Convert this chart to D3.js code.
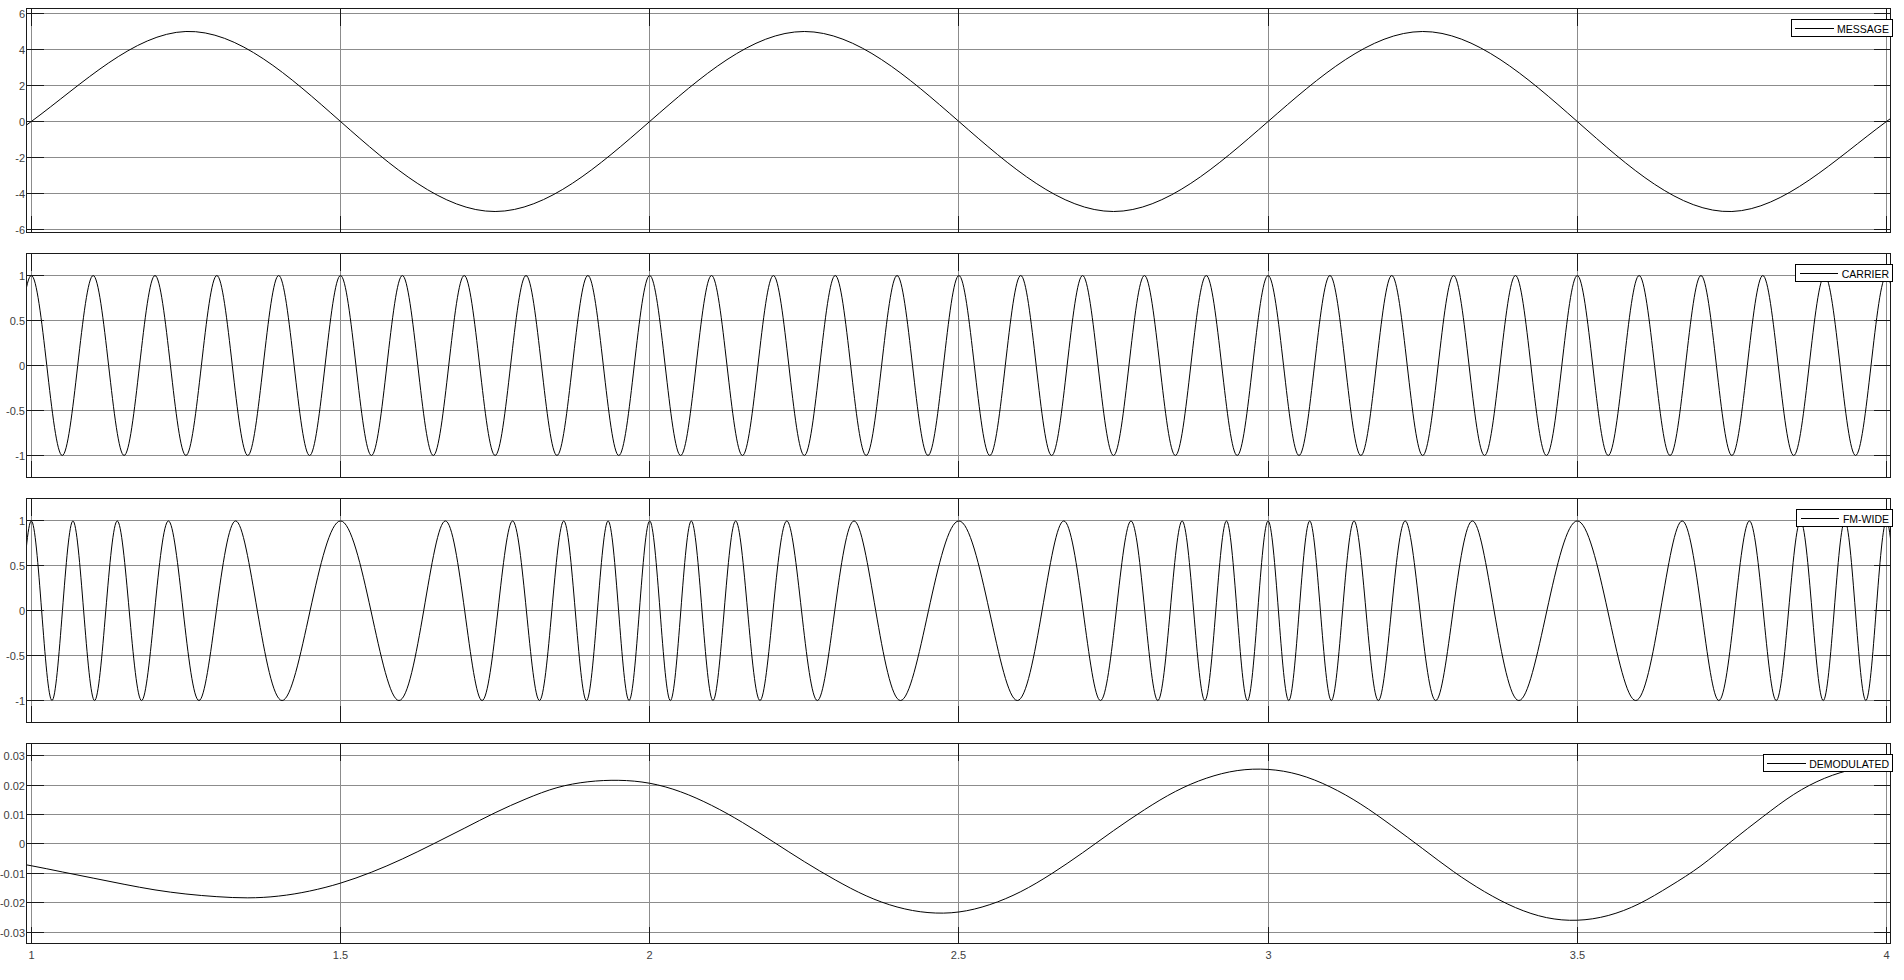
<!DOCTYPE html>
<html><head><meta charset="utf-8">
<script src="https://cdn.jsdelivr.net/npm/d3@7"></script>
<style>
html,body{margin:0;padding:0;background:#fff;}
svg{display:block;}
text{font-family:"Liberation Sans",Arial,Helvetica,sans-serif;}
</style></head><body>
<svg id="chart" width="1904" height="980"></svg>
<script>
// ---------- data ----------
const xTicks = [1, 1.5, 2, 2.5, 3, 3.5, 4];
const xTickLabels = ["1", "1.5", "2", "2.5", "3", "3.5", "4"];

const messageTicks = [-6, -4, -2, 0, 2, 4, 6];
const messageTickLabels = ["-6", "-4", "-2", "0", "2", "4", "6"];
const unitTicks = [-1, -0.5, 0, 0.5, 1];
const unitTickLabels = ["-1", "-0.5", "0", "0.5", "1"];
const demodTicks = [-0.03, -0.02, -0.01, 0, 0.01, 0.02, 0.03];
const demodTickLabels = ["-0.03", "-0.02", "-0.01", "0", "0.01", "0.02", "0.03"];

const messageT = [0.75, 1, 1.25, 1.5, 1.75, 2, 2.25, 2.5, 2.75, 3, 3.25, 3.5, 3.75, 4, 4.25];
const messageV = [-5, 0, 5, 0, -5, 0, 5, 0, -5, 0, 5, 0, -5, 0, 5];

const carrierT = [
  0.975,
  1, 1.025, 1.05, 1.075, 1.1, 1.125, 1.15, 1.175, 1.2, 1.225, 1.25, 1.275, 1.3, 1.325, 1.35, 1.375, 1.4, 1.425, 1.45, 1.475,
  1.5, 1.525, 1.55, 1.575, 1.6, 1.625, 1.65, 1.675, 1.7, 1.725, 1.75, 1.775, 1.8, 1.825, 1.85, 1.875, 1.9, 1.925, 1.95, 1.975,
  2, 2.025, 2.05, 2.075, 2.1, 2.125, 2.15, 2.175, 2.2, 2.225, 2.25, 2.275, 2.3, 2.325, 2.35, 2.375, 2.4, 2.425, 2.45, 2.475,
  2.5, 2.525, 2.55, 2.575, 2.6, 2.625, 2.65, 2.675, 2.7, 2.725, 2.75, 2.775, 2.8, 2.825, 2.85, 2.875, 2.9, 2.925, 2.95, 2.975,
  3, 3.025, 3.05, 3.075, 3.1, 3.125, 3.15, 3.175, 3.2, 3.225, 3.25, 3.275, 3.3, 3.325, 3.35, 3.375, 3.4, 3.425, 3.45, 3.475,
  3.5, 3.525, 3.55, 3.575, 3.6, 3.625, 3.65, 3.675, 3.7, 3.725, 3.75, 3.775, 3.8, 3.825, 3.85, 3.875, 3.9, 3.925, 3.95, 3.975,
  4, 4.025
];
const carrierV = [
  0,
  1, 0, -1, 0, 1, 0, -1, 0, 1, 0, -1, 0, 1, 0, -1, 0, 1, 0, -1, 0,
  1, 0, -1, 0, 1, 0, -1, 0, 1, 0, -1, 0, 1, 0, -1, 0, 1, 0, -1, 0,
  1, 0, -1, 0, 1, 0, -1, 0, 1, 0, -1, 0, 1, 0, -1, 0, 1, 0, -1, 0,
  1, 0, -1, 0, 1, 0, -1, 0, 1, 0, -1, 0, 1, 0, -1, 0, 1, 0, -1, 0,
  1, 0, -1, 0, 1, 0, -1, 0, 1, 0, -1, 0, 1, 0, -1, 0, 1, 0, -1, 0,
  1, 0, -1, 0, 1, 0, -1, 0, 1, 0, -1, 0, 1, 0, -1, 0, 1, 0, -1, 0,
  1, 0
];

const fmT = [
  0.9833,
  1, 1.0167, 1.0334, 1.0503, 1.0673, 1.0846, 1.1023, 1.1204, 1.1390, 1.1583, 1.1783, 1.1994, 1.2217, 1.2455, 1.2711, 1.2992, 1.3304, 1.3655, 1.4055, 1.4508,
  1.5, 1.5492, 1.5945, 1.6345, 1.6696, 1.7008, 1.7289, 1.7545, 1.7783, 1.8006, 1.8217, 1.8417, 1.8610, 1.8796, 1.8977, 1.9154, 1.9327, 1.9497, 1.9666, 1.9833,
  2, 2.0167, 2.0334, 2.0503, 2.0673, 2.0846, 2.1023, 2.1204, 2.1390, 2.1583, 2.1783, 2.1994, 2.2217, 2.2455, 2.2711, 2.2992, 2.3304, 2.3655, 2.4055, 2.4508,
  2.5, 2.5492, 2.5945, 2.6345, 2.6696, 2.7008, 2.7289, 2.7545, 2.7783, 2.8006, 2.8217, 2.8417, 2.8610, 2.8796, 2.8977, 2.9154, 2.9327, 2.9497, 2.9666, 2.9833,
  3, 3.0167, 3.0334, 3.0503, 3.0673, 3.0846, 3.1023, 3.1204, 3.1390, 3.1583, 3.1783, 3.1994, 3.2217, 3.2455, 3.2711, 3.2992, 3.3304, 3.3655, 3.4055, 3.4508,
  3.5, 3.5492, 3.5945, 3.6345, 3.6696, 3.7008, 3.7289, 3.7545, 3.7783, 3.8006, 3.8217, 3.8417, 3.8610, 3.8796, 3.8977, 3.9154, 3.9327, 3.9497, 3.9666, 3.9833,
  4, 4.0167
];
const fmV = [
  0,
  1, 0, -1, 0, 1, 0, -1, 0, 1, 0, -1, 0, 1, 0, -1, 0, 1, 0, -1, 0,
  1, 0, -1, 0, 1, 0, -1, 0, 1, 0, -1, 0, 1, 0, -1, 0, 1, 0, -1, 0,
  1, 0, -1, 0, 1, 0, -1, 0, 1, 0, -1, 0, 1, 0, -1, 0, 1, 0, -1, 0,
  1, 0, -1, 0, 1, 0, -1, 0, 1, 0, -1, 0, 1, 0, -1, 0, 1, 0, -1, 0,
  1, 0, -1, 0, 1, 0, -1, 0, 1, 0, -1, 0, 1, 0, -1, 0, 1, 0, -1, 0,
  1, 0, -1, 0, 1, 0, -1, 0, 1, 0, -1, 0, 1, 0, -1, 0, 1, 0, -1, 0,
  1, 0
];

const demodT = [
  0.95, 1.00, 1.05, 1.10, 1.15, 1.20, 1.25, 1.30, 1.35, 1.40, 1.45,
  1.50, 1.55, 1.60, 1.65, 1.70, 1.75, 1.80, 1.85, 1.90, 1.95,
  2.00, 2.05, 2.10, 2.15, 2.20, 2.25, 2.30, 2.35, 2.40, 2.45,
  2.50, 2.55, 2.60, 2.65, 2.70, 2.75, 2.80, 2.85, 2.90, 2.95,
  3.00, 3.05, 3.10, 3.15, 3.20, 3.25, 3.30, 3.35, 3.40, 3.45,
  3.50, 3.55, 3.60, 3.65, 3.70, 3.75, 3.80, 3.85, 3.90, 3.95,
  4.00, 4.05
];
const demodV = [
  -0.0056, -0.0074, -0.0095, -0.0116, -0.0137, -0.0156, -0.0170, -0.0179, -0.0183, -0.0177, -0.0160,
  -0.0133, -0.0096, -0.0051, 0.0000, 0.0053, 0.0106, 0.0153, 0.0191, 0.0211, 0.0216,
  0.0206, 0.0177, 0.0131, 0.0073, 0.0007, -0.0060, -0.0122, -0.0176, -0.0214, -0.0233,
  -0.0231, -0.0206, -0.0162, -0.0101, -0.0030, 0.0045, 0.0116, 0.0178, 0.0223, 0.0249,
  0.0253, 0.0235, 0.0194, 0.0135, 0.0062, -0.0016, -0.0094, -0.0162, -0.0216, -0.0250,
  -0.0259, -0.0243, -0.0203, -0.0143, -0.0074, 0.0010, 0.0092, 0.0168, 0.0223, 0.0255,
  0.0266, 0.0260
];

const seriesNames = ["MESSAGE", "CARRIER", "FM-WIDE", "DEMODULATED"];

// ---------- layout ----------
const xLim = [0.9922, 4.0065];
const plotLeft = 26.5, plotRight = 1890.5;
const panels = [
  {name: seriesNames[0], t: messageT, v: messageV, ticks: messageTicks, labels: messageTickLabels, top: 8.5, bottom: 232.5, ylim: [-6.166, 6.277], curve: d3.curveNatural},
  {name: seriesNames[1], t: carrierT, v: carrierV, ticks: unitTicks, labels: unitTickLabels, top: 253.5, bottom: 477.5, ylim: [-1.245, 1.245], curve: d3.curveNatural},
  {name: seriesNames[2], t: fmT, v: fmV, ticks: unitTicks, labels: unitTickLabels, top: 498.5, bottom: 722.5, ylim: [-1.245, 1.25], curve: d3.curveNatural},
  {name: seriesNames[3], t: demodT, v: demodV, ticks: demodTicks, labels: demodTickLabels, top: 743.5, bottom: 943.5, ylim: [-0.0338, 0.0341], curve: d3.curveNatural}
];

const gridColor = "#8c8c8c";
const axisColor = "#1a1a1a";
const labelColor = "#404040";
const tickLen = 17;

const svg = d3.select("#chart");
const x = d3.scaleLinear().domain(xLim).range([plotLeft, plotRight]);
const snap = v => Math.floor(v) + 0.5;

panels.forEach((p, i) => {
  const y = d3.scaleLinear().domain(p.ylim).range([p.bottom, p.top]);
  const g = svg.append("g");

  svg.append("clipPath").attr("id", "clip" + i)
    .append("rect").attr("x", plotLeft).attr("y", p.top)
    .attr("width", plotRight - plotLeft).attr("height", p.bottom - p.top);

  // grid
  g.append("g").selectAll("line").data(xTicks).join("line")
    .attr("x1", d => snap(x(d))).attr("x2", d => snap(x(d)))
    .attr("y1", p.top).attr("y2", p.bottom)
    .attr("stroke", gridColor).attr("stroke-width", 1).attr("shape-rendering", "crispEdges");
  g.append("g").selectAll("line").data(p.ticks).join("line")
    .attr("x1", plotLeft).attr("x2", plotRight)
    .attr("y1", d => snap(y(d))).attr("y2", d => snap(y(d)))
    .attr("stroke", gridColor).attr("stroke-width", 1).attr("shape-rendering", "crispEdges");

  // data line
  const line = d3.line().x(d => x(d[0])).y(d => y(d[1])).curve(p.curve);
  g.append("path").datum(d3.zip(p.t, p.v))
    .attr("clip-path", "url(#clip" + i + ")")
    .attr("d", line).attr("fill", "none").attr("stroke", "#000").attr("stroke-width", 1);

  // tick marks
  const tk = g.append("g").attr("stroke", axisColor).attr("stroke-width", 1).attr("shape-rendering", "crispEdges");
  p.ticks.forEach(d => {
    const yy = snap(y(d));
    tk.append("line").attr("x1", plotLeft).attr("x2", plotLeft + tickLen).attr("y1", yy).attr("y2", yy);
    tk.append("line").attr("x1", plotRight - tickLen).attr("x2", plotRight).attr("y1", yy).attr("y2", yy);
  });
  xTicks.forEach(d => {
    const xx = snap(x(d));
    tk.append("line").attr("x1", xx).attr("x2", xx).attr("y1", p.top).attr("y2", p.top + tickLen);
    tk.append("line").attr("x1", xx).attr("x2", xx).attr("y1", p.bottom - tickLen).attr("y2", p.bottom);
  });

  // box
  g.append("rect").attr("x", plotLeft).attr("y", p.top)
    .attr("width", plotRight - plotLeft).attr("height", p.bottom - p.top)
    .attr("fill", "none").attr("stroke", axisColor).attr("stroke-width", 1).attr("shape-rendering", "crispEdges");

  // y tick labels
  g.append("g").selectAll("text").data(p.ticks).join("text")
    .attr("x", 25).attr("y", d => snap(y(d)) + 4)
    .attr("text-anchor", "end").attr("font-size", "11px").attr("fill", labelColor)
    .text((d, j) => p.labels[j]);

  // x tick labels on last panel
  if (i === panels.length - 1) {
    g.append("g").selectAll("text").data(xTicks).join("text")
      .attr("x", d => snap(x(d))).attr("y", p.bottom + 15)
      .attr("text-anchor", "middle").attr("font-size", "11px").attr("fill", labelColor)
      .text((d, j) => xTickLabels[j]);
  }

  // legend
  const lg = g.append("g");
  const legR = 1892.5;
  const legTop = Math.floor(p.top + 11) + 0.5;
  const rect = lg.append("rect");
  const txt = lg.append("text").attr("x", legR - 3.5).attr("y", legTop + 13)
    .attr("text-anchor", "end").attr("font-size", "10.5px").attr("fill", "#000").text(p.name);
  const w = txt.node().getComputedTextLength();
  const tStart = legR - 3.5 - w;
  rect.attr("x", Math.floor(tStart - 46) + 0.5).attr("y", legTop)
    .attr("width", legR - Math.floor(tStart - 46) - 0.5).attr("height", 17)
    .attr("fill", "#fff").attr("stroke", "#000").attr("stroke-width", 1).attr("shape-rendering", "crispEdges");
  lg.append("line").attr("x1", tStart - 42).attr("x2", tStart - 3.5)
    .attr("y1", legTop + 8.5).attr("y2", legTop + 8.5)
    .attr("stroke", "#000").attr("stroke-width", 1).attr("shape-rendering", "crispEdges");
});
</script>
</body></html>
